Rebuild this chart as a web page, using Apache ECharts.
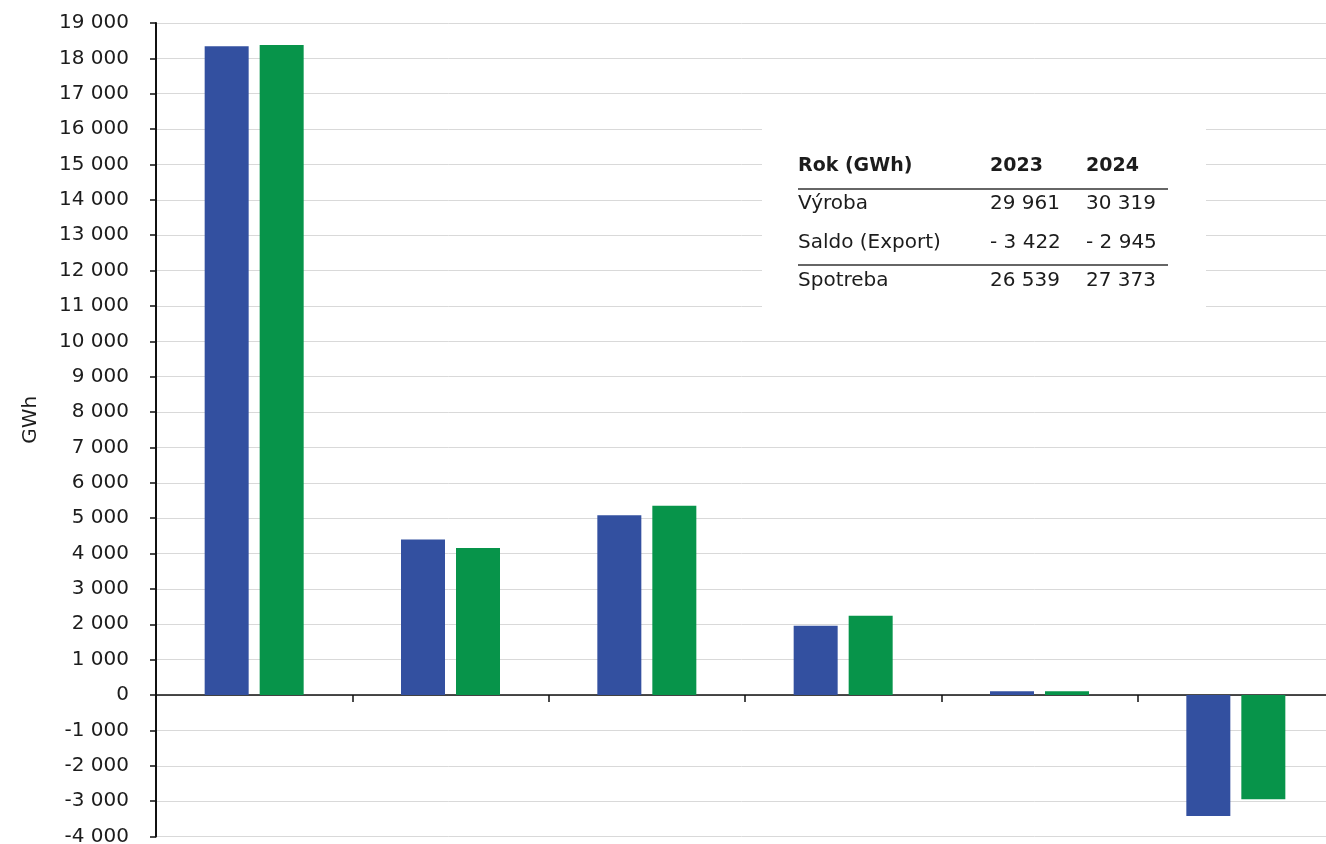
<!DOCTYPE html>
<html>
<head>
<meta charset="utf-8">
<script src="https://cdn.jsdelivr.net/npm/echarts@6/dist/echarts.min.js"></script>
<style>
  html, body { margin: 0; padding: 0; background: #fff; }
  #chart { width: 1326px; height: 844px; }
</style>
</head>
<body>
<div id="chart"></div>
<script>
// Electricity production by source and cross-border balance (GWh)
const categories = ['Jadrové', 'Fosílne', 'Vodné', 'Obnoviteľné', 'Ostatné', 'Saldo'];
const years = ['2023', '2024'];

// Summary table: production, balance (export), consumption
const tableHeader = ['Rok (GWh)', '2023', '2024'];
const tableLabels = ['Výroba', 'Saldo (Export)', 'Spotreba'];
const table2023 = [29961, -3422, 26539];
const table2024 = [30319, -2945, 27373];

// Production per source; the last bar is the balance shown in the table
const values2023 = [18340, 4400, 5080, 1960, 110, table2023[1]];
const values2024 = [18380, 4160, 5350, 2240, 110, table2024[1]];

const yTicks = { min: -4000, max: 19000, step: 1000 };

const BLUE = '#3350a0';
const GREEN = '#07944a';
const TEXT = '#1c1c1c';
const FONT = '"DejaVu Sans", Verdana, sans-serif';

function fmt(v) {
  const s = Math.abs(Math.round(v)).toString().replace(/\B(?=(\d{3})+(?!\d))/g, ' ');
  return (v < 0 ? '-' : '') + s;
}
function fmtTable(v) {
  const s = Math.abs(Math.round(v)).toString().replace(/\B(?=(\d{3})+(?!\d))/g, ' ');
  return (v < 0 ? '- ' : '') + s;
}

const chart = echarts.init(document.getElementById('chart'), null, { renderer: 'canvas' });

// Table overlay
const tx = 798, c1 = 990, c2 = 1086;
const rowY = [204, 243, 281];
const graphics = [
  { type: 'rect', z: 100, shape: { x: 762, y: 100, width: 444, height: 220 }, style: { fill: '#fff' } },
  { type: 'text', z: 101, x: tx, y: 166, style: { text: tableHeader[0], font: 'bold 19px ' + FONT, fill: TEXT, verticalAlign: 'middle' } },
  { type: 'text', z: 101, x: c1, y: 166, style: { text: tableHeader[1], font: 'bold 19px ' + FONT, fill: TEXT, verticalAlign: 'middle' } },
  { type: 'text', z: 101, x: c2, y: 166, style: { text: tableHeader[2], font: 'bold 19px ' + FONT, fill: TEXT, verticalAlign: 'middle' } },
  { type: 'line', z: 101, shape: { x1: tx, y1: 189, x2: 1168, y2: 189 }, style: { stroke: '#333', lineWidth: 1.5 } },
  { type: 'line', z: 101, shape: { x1: tx, y1: 265, x2: 1168, y2: 265 }, style: { stroke: '#333', lineWidth: 1.5 } }
];
tableLabels.forEach((lab, i) => {
  graphics.push({ type: 'text', z: 101, x: tx, y: rowY[i], style: { text: lab, font: '20px ' + FONT, fill: TEXT, verticalAlign: 'middle' } });
  graphics.push({ type: 'text', z: 101, x: c1, y: rowY[i], style: { text: fmtTable(table2023[i]), font: '20px ' + FONT, fill: TEXT, verticalAlign: 'middle' } });
  graphics.push({ type: 'text', z: 101, x: c2, y: rowY[i], style: { text: fmtTable(table2024[i]), font: '20px ' + FONT, fill: TEXT, verticalAlign: 'middle' } });
});

chart.setOption({
  animation: false,
  backgroundColor: '#fff',
  textStyle: { fontFamily: FONT },
  grid: { left: 156, width: 1178, top: 23, bottom: 7.5, containLabel: false, outerBoundsMode: 'none' },
  xAxis: {
    type: 'category',
    data: categories,
    axisLine: { onZero: true, lineStyle: { color: '#111', width: 1.5 } },
    axisTick: { show: true, length: 7, lineStyle: { color: '#111', width: 1.5 } },
    axisLabel: { show: false },
    splitLine: { show: false }
  },
  yAxis: {
    type: 'value',
    min: yTicks.min,
    max: yTicks.max,
    interval: yTicks.step,
    name: 'GWh',
    nameLocation: 'middle',
    nameGap: 115,
    nameRotate: 90,
    nameTextStyle: { color: TEXT, fontSize: 20, fontFamily: FONT, padding: [0, 0, 0, 20] },
    axisLine: { show: true, lineStyle: { color: '#111', width: 2 } },
    axisTick: { show: true, length: 6, lineStyle: { color: '#111', width: 1.5 } },
    axisLabel: { color: TEXT, fontSize: 20, fontFamily: FONT, margin: 27, formatter: fmt },
    splitLine: { lineStyle: { color: '#d9d9d9', width: 1 } }
  },
  series: [
    { name: years[0], type: 'bar', data: values2023, barWidth: 44, barGap: '25%', itemStyle: { color: BLUE } },
    { name: years[1], type: 'bar', data: values2024, barWidth: 44, barGap: '25%', itemStyle: { color: GREEN } }
  ],
  graphic: graphics
});
</script>
</body>
</html>
